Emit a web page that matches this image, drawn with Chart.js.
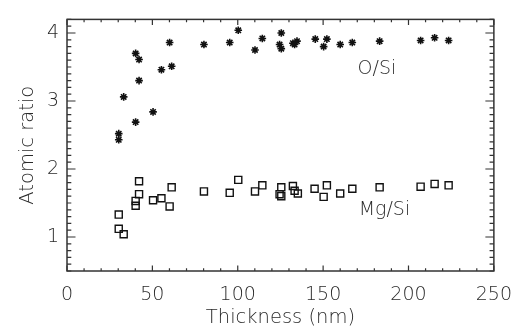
<!DOCTYPE html>
<html>
<head>
<meta charset="utf-8">
<script src="https://cdn.jsdelivr.net/npm/chart.js@4.4.1/dist/chart.umd.min.js"></script>
<style>
  html, body { margin: 0; padding: 0; background: #fff; }
  #wrap { width: 525px; height: 331px; }
</style>
</head>
<body>
<div id="wrap"><canvas id="chart" width="525" height="331"></canvas></div>
<script>
// thickness (nm) vs atomic ratio
const oSiX = [30.3, 30.3, 33.2, 40.2, 40.2, 42.2, 42.2, 50.4, 55.3, 61.3, 60.1, 80.2, 95.3, 100.3, 110.1, 114.4,
              125.5, 124.5, 125.5, 132.3, 134.7, 133.3, 145.4, 152.2, 150.3, 160, 167.1, 183.1, 207.1, 215.3, 223.5];
const oSiY = [2.52, 2.43, 3.06, 2.69, 3.70, 3.61, 3.30, 2.84, 3.46, 3.51, 3.86, 3.83, 3.86, 4.04, 3.75, 3.92,
              4.00, 3.83, 3.77, 3.85, 3.88, 3.83, 3.91, 3.91, 3.80, 3.83, 3.86, 3.88, 3.89, 3.93, 3.89];

const mgSiX = [30.3, 30.3, 33.2, 40.2, 40.2, 42.2, 42.2, 50.4, 55.3, 60.1, 61.3, 80.2, 95.3, 100.3, 110.1, 114.4,
               125.5, 124.5, 125.5, 132.3, 133.3, 135.2, 145, 152.2, 150.3, 160, 167.1, 183.1, 207.1, 215.3, 223.5];
const mgSiY = [1.33, 1.12, 1.04, 1.53, 1.46, 1.63, 1.82, 1.54, 1.57, 1.45, 1.73, 1.67, 1.65, 1.84, 1.67, 1.76,
               1.73, 1.63, 1.60, 1.75, 1.68, 1.64, 1.71, 1.76, 1.59, 1.64, 1.71, 1.73, 1.74, 1.78, 1.76];

const xTicks = [0, 50, 100, 150, 200, 250];
const yTicks = [1, 2, 3, 4];
const seriesLabels = ['O/Si', 'Mg/Si'];

const ink = '#2a2a2a';
const fontFamily = '"DejaVu Sans", sans-serif';

function toPoints(xs, ys) {
    return xs.map((v, i) => ({ x: v, y: ys[i] }));
}

// box with inward ticks on all four sides, plus the in-plot labels
const frame = {
    id: 'frame',
    afterDraw(chart) {
        const { ctx, chartArea: a, scales: { x, y } } = chart;
        ctx.save();
        ctx.strokeStyle = '#333';
        ctx.lineWidth = 1.5;
        ctx.strokeRect(a.left, a.top, a.right - a.left, a.bottom - a.top);

        ctx.lineWidth = 1.2;
        ctx.beginPath();
        for (let v = 0; v <= 250; v += 10) {
            const px = x.getPixelForValue(v);
            const len = v % 50 === 0 ? 5.5 : 2.8;
            ctx.moveTo(px, a.bottom); ctx.lineTo(px, a.bottom - len);
            ctx.moveTo(px, a.top); ctx.lineTo(px, a.top + len);
        }
        for (let i = 5; i <= 42; i++) {
            const py = y.getPixelForValue(i / 10);
            const len = i % 10 === 0 ? 8.5 : 4.3;
            ctx.moveTo(a.left, py); ctx.lineTo(a.left + len, py);
            ctx.moveTo(a.right, py); ctx.lineTo(a.right - len, py);
        }
        ctx.stroke();

        ctx.fillStyle = ink;
        ctx.font = '200 19px ' + fontFamily;
        ctx.textBaseline = 'middle';
        ctx.fillText(seriesLabels[0], x.getPixelForValue(170.2), y.getPixelForValue(3.47));
        ctx.fillText(seriesLabels[1], x.getPixelForValue(170.8), y.getPixelForValue(1.40));
        ctx.restore();
    }
};

new Chart(document.getElementById('chart'), {
    type: 'scatter',
    data: {
        datasets: [
            {
                label: seriesLabels[0],
                data: toPoints(oSiX, oSiY),
                pointStyle: 'star',
                pointRadius: 3.8,
                borderWidth: 1.6,
                borderColor: '#111',
                backgroundColor: '#111'
            },
            {
                label: seriesLabels[1],
                data: toPoints(mgSiX, mgSiY),
                pointStyle: 'rect',
                pointRadius: 5,
                borderWidth: 1.4,
                borderColor: '#111',
                backgroundColor: 'rgba(0,0,0,0)'
            }
        ]
    },
    plugins: [frame],
    options: {
        responsive: false,
        animation: false,
        layout: { padding: { top: 8, right: 31, left: 0, bottom: 0 } },
        plugins: {
            legend: { display: false },
            tooltip: { enabled: false }
        },
        scales: {
            x: {
                type: 'linear',
                min: 0,
                max: 250,
                afterFit: s => { s.height = 60; },
                afterBuildTicks: s => { s.ticks = xTicks.map(v => ({ value: v })); },
                grid: { display: false, drawTicks: false },
                border: { display: false },
                ticks: {
                    padding: 13,
                    color: ink,
                    font: { family: fontFamily, size: 19, weight: 200 }
                },
                title: {
                    display: true,
                    text: 'Thickness (nm)',
                    color: ink,
                    padding: { top: 0, bottom: 1 },
                    font: { family: fontFamily, size: 19.5, weight: 200 }
                }
            },
            y: {
                type: 'linear',
                min: 0.5,
                max: 4.2,
                afterFit: s => { s.width = 67; },
                afterBuildTicks: s => { s.ticks = yTicks.map(v => ({ value: v })); },
                grid: { display: false, drawTicks: false },
                border: { display: false },
                ticks: {
                    padding: 8,
                    color: ink,
                    font: { family: fontFamily, size: 19, weight: 200 }
                },
                title: {
                    display: true,
                    text: 'Atomic ratio',
                    color: ink,
                    padding: { top: 16, bottom: 0 },
                    font: { family: fontFamily, size: 19.5, weight: 200 }
                }
            }
        }
    }
});
</script>
</body>
</html>
